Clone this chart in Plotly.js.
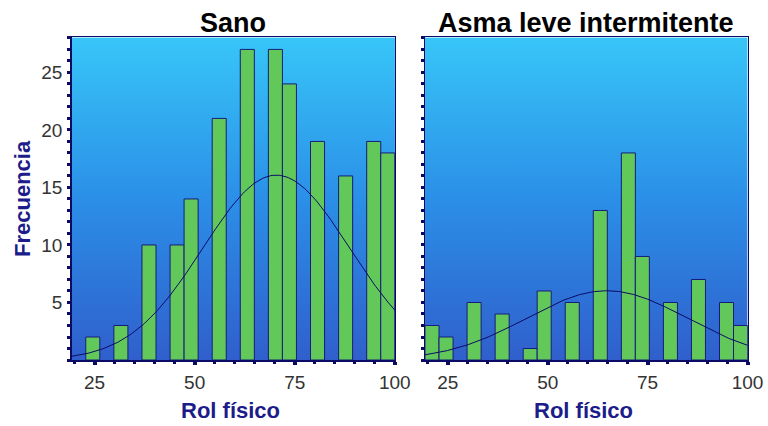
<!DOCTYPE html>
<html>
<head>
<meta charset="utf-8">
<script src="https://cdn.plot.ly/plotly-3.0.1.min.js"></script>
<style>
  html, body { margin: 0; padding: 0; background: #ffffff; }
  #chart { width: 768px; height: 426px; }
</style>
</head>
<body>
<div id="chart"></div>
<script>
// Histogram bins of the "Rol físico" score (bin centres) and frequencies per group
const binCentersSano = [24.56, 31.58, 38.60, 45.62, 49.12, 56.14, 63.16, 70.18, 73.68, 80.70, 87.72, 94.74, 98.25];
const countsSano     = [2, 3, 10, 10, 14, 21, 27, 27, 24, 19, 16, 19, 18];
const binCentersAsma = [21.05, 24.56, 31.58, 38.60, 45.62, 49.12, 56.14, 63.16, 70.18, 73.68, 80.70, 87.72, 94.74, 98.25];
const countsAsma     = [3, 2, 5, 4, 1, 6, 5, 13, 18, 9, 5, 7, 5, 3];
const binWidth = 3.51;

// Parameters of the fitted normal curve for each group
const normalSano = { mean: 70.4, sd: 18.3 };
const normalAsma = { mean: 64.8, sd: 20.0 };

const panelTitles = ['Sano', 'Asma leve intermitente'];
const xTitle = 'Rol físico';
const yTitle = 'Frecuencia';
const xTickVals = [25, 50, 75, 100];
const yTickVals = [5, 10, 15, 20, 25];
const xRange = [19.3, 100.05];
const yRange = [0, 28.05];

const NAVY = '#0b0b66';
const BAR_FILL = '#63c85a';
const BAR_EDGE = '#161c7a';
const TITLE_BLUE = '#1c1c8a';

// Normal density scaled to the histogram (n * binWidth * pdf)
function normalCurve(counts, p) {
  const n = counts.reduce((a, b) => a + b, 0);
  const xs = [], ys = [];
  const steps = 200;
  for (let i = 0; i <= steps; i++) {
    const x = xRange[0] + (xRange[1] - xRange[0]) * i / steps;
    const z = (x - p.mean) / p.sd;
    xs.push(x);
    ys.push(n * binWidth * Math.exp(-0.5 * z * z) / (p.sd * Math.sqrt(2 * Math.PI)));
  }
  return { xs, ys };
}

const curveSano = normalCurve(countsSano, normalSano);
const curveAsma = normalCurve(countsAsma, normalAsma);

const barStyle = { color: BAR_FILL, line: { color: BAR_EDGE, width: 1 } };

const traces = [
  { type: 'bar', x: binCentersSano, y: countsSano, width: binWidth, marker: barStyle,
    xaxis: 'x', yaxis: 'y', hoverinfo: 'x+y' },
  { type: 'scatter', mode: 'lines', x: curveSano.xs, y: curveSano.ys,
    line: { color: NAVY, width: 1 }, xaxis: 'x', yaxis: 'y', hoverinfo: 'skip' },
  { type: 'bar', x: binCentersAsma, y: countsAsma, width: binWidth, marker: barStyle,
    xaxis: 'x2', yaxis: 'y2', hoverinfo: 'x+y' },
  { type: 'scatter', mode: 'lines', x: curveAsma.xs, y: curveAsma.ys,
    line: { color: NAVY, width: 1 }, xaxis: 'x2', yaxis: 'y2', hoverinfo: 'skip' }
];

// Vertical blue gradient used as the plot-area background
const gradSvg =
  "<svg xmlns='http://www.w3.org/2000/svg' width='100' height='100' preserveAspectRatio='none'>" +
  "<defs><linearGradient id='g' x1='0' y1='0' x2='0' y2='1'>" +
  "<stop offset='0' stop-color='#37c6f8'/>" +
  "<stop offset='0.5' stop-color='#2b8fe7'/>" +
  "<stop offset='1' stop-color='#305fcc'/>" +
  "</linearGradient></defs><rect width='100' height='100' fill='url(#g)'/></svg>";
const gradSrc = 'data:image/svg+xml;base64,' + btoa(gradSvg);

function bgImage(xref, yref) {
  return {
    source: gradSrc, xref: xref, yref: yref,
    x: xRange[0], y: yRange[1],
    sizex: xRange[1] - xRange[0], sizey: yRange[1] - yRange[0],
    xanchor: 'left', yanchor: 'top', sizing: 'stretch', layer: 'below'
  };
}

const tickFont = { family: 'Liberation Sans Narrow, Arial Narrow, Liberation Sans, Arial, sans-serif', size: 19, color: '#333333' };
const axisTitleFont = { family: 'Liberation Sans, Arial, sans-serif', size: 22, color: TITLE_BLUE, weight: 'bold' };

function xAxis(domain, anchor) {
  return {
    domain: domain, anchor: anchor, range: xRange, fixedrange: true,
    tickmode: 'array', tickvals: xTickVals,
    ticks: 'outside', ticklen: 3, tickwidth: 4, tickcolor: NAVY,
    minor: { tickmode: 'linear', tick0: 0, dtick: 5, ticks: 'outside', ticklen: 2, tickwidth: 3, tickcolor: NAVY },
    showline: true, linecolor: NAVY, linewidth: 1.5, mirror: true,
    showgrid: false, zeroline: false,
    tickfont: tickFont, ticklabelstandoff: 2
  };
}

function yAxis(domain, anchor, labels) {
  return {
    domain: domain, anchor: anchor, range: yRange, fixedrange: true,
    tickmode: 'array', tickvals: yTickVals, showticklabels: labels,
    ticks: 'outside', ticklen: 3, tickwidth: 3, tickcolor: NAVY,
    minor: { tickmode: 'linear', tick0: 0, dtick: 1, ticks: 'outside', ticklen: 3, tickwidth: 3, tickcolor: NAVY },
    showline: true, linecolor: NAVY, linewidth: 1.5, mirror: true,
    showgrid: false, zeroline: false,
    tickfont: tickFont, ticklabelstandoff: 1
  };
}

const leftDomain = [0.0934, 0.5143];
const rightDomain = [0.5534, 0.9736];
const yDomain = [0.1549, 0.9124];

const y2 = yAxis(yDomain, 'x2', false);
y2.matches = 'y';

const panelTitleFont = { family: 'Liberation Sans, Arial, sans-serif', size: 27, color: '#000000', weight: 'bold' };

function paperText(text, xPx, yPx, font, angle) {
  return {
    text: text, xref: 'paper', yref: 'paper',
    x: xPx / 768, y: 1 - yPx / 426,
    xanchor: 'center', yanchor: 'middle', showarrow: false,
    textangle: angle || 0, font: font
  };
}

const leftMid = (leftDomain[0] + leftDomain[1]) / 2 * 768;
const rightMid = (rightDomain[0] + rightDomain[1]) / 2 * 768;

const layout = {
  width: 768, height: 426,
  margin: { l: 0, r: 0, t: 0, b: 0 },
  paper_bgcolor: '#ffffff',
  plot_bgcolor: 'rgba(0,0,0,0)',
  showlegend: false,
  bargap: 0,
  xaxis: xAxis(leftDomain, 'y'),
  yaxis: yAxis(yDomain, 'x', true),
  xaxis2: xAxis(rightDomain, 'y2'),
  yaxis2: y2,
  images: [bgImage('x', 'y'), bgImage('x2', 'y2')],
  annotations: [
    paperText(panelTitles[0], leftMid, 23, panelTitleFont),
    paperText(panelTitles[1], rightMid, 23, panelTitleFont),
    paperText(xTitle, leftMid - 3, 410, axisTitleFont),
    paperText(xTitle, rightMid - 3, 410, axisTitleFont),
    paperText(yTitle, 22, 199, axisTitleFont, -90)
  ]
};

Plotly.newPlot('chart', traces, layout, { displayModeBar: false, staticPlot: true });
</script>
</body>
</html>
